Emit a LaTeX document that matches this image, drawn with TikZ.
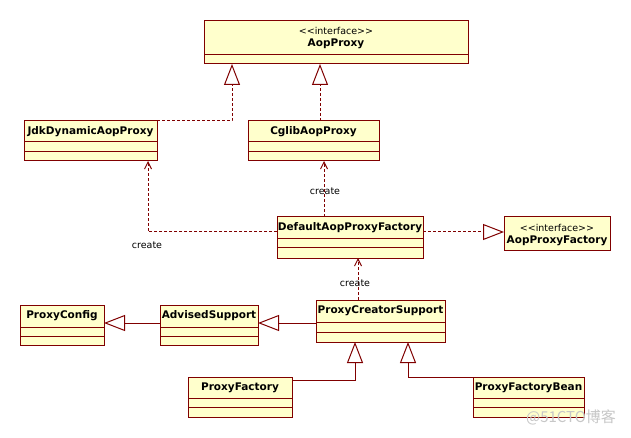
\documentclass[tikz,border=0pt]{standalone}
\usepackage{fontspec}
\setmainfont{DejaVu Sans}
\newfontfamily\cjk{Noto Sans CJK SC}
\usetikzlibrary{arrows.meta}
\definecolor{boxfill}{RGB}{255,255,204}
\definecolor{edgec}{RGB}{128,0,0}
\tikzset{
  umlbox/.style={draw=edgec, fill=boxfill, line width=1pt, inner sep=0pt, outer sep=0pt, anchor=north west},
  divline/.style={draw=edgec, line width=1pt},
  ttl/.style={font=\fontsize{10.5}{12}\selectfont\bfseries, inner sep=0pt},
  stereo/.style={font=\fontsize{9.5}{11}\selectfont, inner sep=0pt},
  lbl/.style={font=\fontsize{9.5}{11}\selectfont, inner sep=0pt},
  real/.style={draw=edgec, line width=1pt, dash pattern=on 3pt off 2pt, -{Triangle[open,length=21pt,width=16pt,fill=white]}},
  gen/.style={draw=edgec, line width=1pt, -{Triangle[open,length=21pt,width=16pt,fill=white]}},
  dep/.style={draw=edgec, line width=1pt, dash pattern=on 3pt off 2pt, -{Straight Barb[length=7pt,width=7pt]}},
}
% name, x1, y1, x2, y2, div1, div2, title
\newcommand\umlclass[8]{%
  \node[umlbox, minimum width={#4-#2}, minimum height={#5-#3}] (#1) at (#2,#3) {};
  \draw[divline] (#2,#6) -- (#4,#6);
  \draw[divline] (#2,#7) -- (#4,#7);
  \node[ttl] (#1-t) at ({(#2+#4)/2},{(#3+#6)/2}) {#8};
}
\newcommand\stereotxt{{<}{<}interface{>}{>}}
\begin{document}
\begin{tikzpicture}[x=1pt,y=-1pt]
\path[use as bounding box, fill=white] (0,0) rectangle (631,438);

% AopProxy interface
\node[umlbox, minimum width=264, minimum height=43] (aop) at (204,21) {};
\draw[divline] (204,55) -- (468,55);
\node[stereo] (aop-s) at (336,31) {\stereotxt};
\node[ttl] (aop-t) at (336,44) {AopProxy};

\umlclass{jdk}{24}{121}{157}{161}{142}{152}{JdkDynamicAopProxy}
\umlclass{cglib}{248}{121}{379}{161}{142}{152}{CglibAopProxy}
\umlclass{def}{277}{217}{423}{258}{238}{247}{DefaultAopProxyFactory}

% AopProxyFactory interface
\node[umlbox, minimum width=106, minimum height=33] (apf) at (504,217) {};
\node[stereo] (apf-s) at (557,228) {\stereotxt};
\node[ttl] (apf-t) at (557,241) {AopProxyFactory};

\umlclass{pc}{20}{305}{104}{345}{327}{336}{ProxyConfig}
\umlclass{adv}{160}{305}{258}{345}{327}{336}{AdvisedSupport}
\umlclass{pcs}{316}{300}{445}{342}{322}{332}{ProxyCreatorSupport}
\umlclass{pf}{188}{377}{292}{417}{398}{407}{ProxyFactory}
\umlclass{pfb}{473}{377}{584}{417}{398}{407}{ProxyFactoryBean}

% helper coordinates
\coordinate (aA) at (232,64);
\coordinate (aB) at (320,64);
\coordinate (jB) at (148,161);
\coordinate (cB) at (324,161);
\coordinate (dL) at (277,232);
\coordinate (dB) at (358,258);
\coordinate (gy) at (0,323);
\coordinate (py) at (0,380);
\coordinate (p1) at (355,342);
\coordinate (p2) at (408,342);

% realizations
\draw[real] (jdk.north east) -| (aA);
\draw[real] (aB |- cglib.north) -- (aB);
\draw[real] (def.east |- dL) -- (apf.west |- dL);

% dependencies
\draw[dep] (dL) -| (jB);
\draw[dep] (cB |- def.north) -- (cB);
\draw[dep] (dB |- pcs.north) -- (dB);

% generalizations
\draw[gen] (adv.west |- gy) -- (pc.east |- gy);
\draw[gen] (pcs.west |- gy) -- (adv.east |- gy);
\draw[gen] (pf.east |- py) -| (p1);
\draw[gen] (pfb.north west) -| (p2);

% labels
\node[lbl] (l1) at (147,245) {create};
\node[lbl] (l2) at (325,191) {create};
\node[lbl] (l3) at (355,283) {create};

% watermark
\node[text=black!22, font=\cjk\fontsize{15}{15}\selectfont, inner sep=0pt] (wm) at (571,417) {@51CTO博客};
\end{tikzpicture}
\end{document}
